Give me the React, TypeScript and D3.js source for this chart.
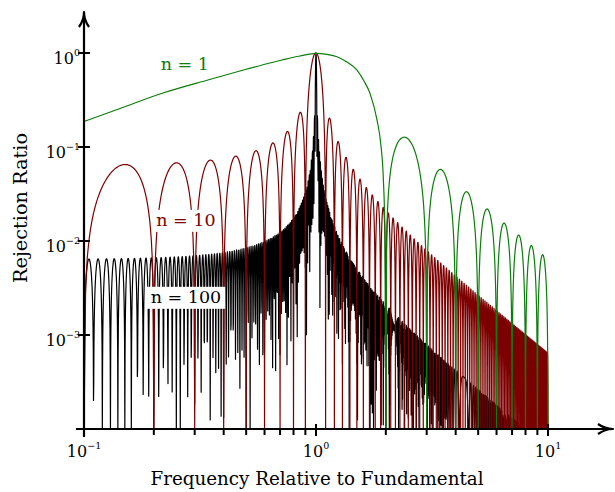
import React, { useEffect, useRef } from 'react';
import * as d3 from 'd3';

// averaging orders shown in the chart
const orders = [1, 10, 100];
const orderLabels = ['n = 1', 'n = 10', 'n = 100'];
const orderColors = ['#0b7d0b', '#7d0000', '#000000'];
// label anchor, in data units (frequency, ratio)
const labelFreq = [0.272, 0.275, 0.275];
const labelRatio = [0.66, 0.0145, 0.0022];

// n = 1 main lobe
const mainLobeFreq = [0.1, 0.143, 0.219, 0.342, 0.47, 0.633, 0.714, 0.853, 1.0, 1.115, 1.232, 1.36, 1.502, 1.61, 1.709, 1.832, 1.9, 1.952, 1.982, 2.0];
const mainLobeRatio = [0.187, 0.257, 0.375, 0.516, 0.643, 0.783, 0.842, 0.929, 0.99, 0.965, 0.913, 0.802, 0.659, 0.504, 0.372, 0.194, 0.11, 0.0446, 0.0122, 1e-4];

const freqRange = [0.1, 10];
const ratioRange = [1e-4, 1];
const yTickExps = [0, -1, -2, -3];
const xTickExps = [-1, 0, 1];
const xMinorTicks = [0.2, 0.3, 0.4, 0.5, 0.6, 0.7, 0.8, 0.9, 2, 3, 4, 5, 6, 7, 8, 9];

const W = 615;
const H = 492;
const FONT = '"DejaVu Serif", "Liberation Serif", serif';

// rejection ratio of an n-cycle average at frequency f (relative to fundamental)
const rejection = (n: number, f: number) => {
  const d = 1 - f * f;
  if (Math.abs(d) < 1e-12) return 1;
  return Math.abs((2 * Math.sin(n * Math.PI * f)) / (n * Math.PI * d));
};

// sample positions: every lobe for the coarse orders, a log grid for the dense one
const samplesFor = (n: number, from: number) => {
  if (n >= 100) {
    return d3.range(2001).map(i => Math.pow(10, -1 + (2 * i) / 2000));
  }
  const per = 60;
  const pts: number[] = [];
  for (let k = Math.floor(from * n); k < Math.round(freqRange[1] * n); k++) {
    for (let j = 0; j < per; j++) pts.push((k + j / per) / n);
  }
  pts.push(freqRange[1]);
  return pts.filter(f => f >= from - 1e-9 && f <= freqRange[1] + 1e-9);
};

function App() {
  const ref = useRef<SVGSVGElement>(null);

  useEffect(() => {
    const svg = d3.select(ref.current);
    svg.selectAll('*').remove();

    const x = d3.scaleLog().domain(freqRange).range([84, 548]);
    const y = d3.scaleLog().domain(ratioRange).range([429, 53]);

    const plot = svg.append('g');

    // dense first so the coarse curves sit on top
    const drawOrder = [2, 1, 0];
    drawOrder.forEach(i => {
      const n = orders[i];
      const from = n === 1 ? mainLobeFreq[mainLobeFreq.length - 1] : freqRange[0];
      const pts = samplesFor(n, from);
      const l = d3.line<number>()
        .x(f => x(f))
        .y(f => y(Math.max(ratioRange[0], rejection(n, f))));
      plot.append('path')
        .attr('d', l(pts))
        .attr('fill', 'none')
        .attr('stroke', orderColors[i])
        .attr('stroke-width', 1.2)
        .attr('stroke-linejoin', 'round');
      if (n === 1) {
        const main = d3.line<number>()
          .x((_, j) => x(mainLobeFreq[j]))
          .y(v => y(v))
          .curve(d3.curveMonotoneX);
        plot.append('path')
          .attr('d', main(mainLobeRatio))
          .attr('fill', 'none')
          .attr('stroke', orderColors[i])
          .attr('stroke-width', 1.2);
      }
    });

    // curve labels
    orders.forEach((n, i) => {
      const g = svg.append('g');
      const t = g.append('text')
        .attr('x', x(labelFreq[i]))
        .attr('y', y(labelRatio[i]))
        .attr('text-anchor', 'middle')
        .attr('font-family', FONT)
        .attr('font-size', 17.5)
        .attr('fill', orderColors[i])
        .text(orderLabels[i]);
      if (n > 1) {
        const bb = (t.node() as SVGTextElement).getBBox();
        g.insert('rect', 'text')
          .attr('x', bb.x - 4)
          .attr('y', bb.y)
          .attr('width', bb.width + 8)
          .attr('height', bb.height + 2)
          .attr('fill', 'white');
      }
    });

    // axes
    const axis = svg.append('g').attr('stroke', 'black').attr('fill', 'none');
    const ax0 = x(freqRange[0]);
    const ay0 = y(ratioRange[0]);
    axis.append('line')
      .attr('x1', 76).attr('x2', 610)
      .attr('y1', ay0).attr('y2', ay0)
      .attr('stroke-width', 2.2);
    axis.append('line')
      .attr('x1', ax0).attr('x2', ax0)
      .attr('y1', 437).attr('y2', 15)
      .attr('stroke-width', 2.2);
    // arrow heads
    axis.append('path')
      .attr('d', `M${ax0 - 5},27 Q${ax0},20 ${ax0},12 Q${ax0},20 ${ax0 + 5},27`)
      .attr('stroke-width', 2.2).attr('stroke-linejoin', 'round');
    axis.append('path')
      .attr('d', `M598,${ay0 - 5} Q605,${ay0} 613,${ay0} Q605,${ay0} 598,${ay0 + 5}`)
      .attr('stroke-width', 2.2).attr('stroke-linejoin', 'round');

    // y ticks
    yTickExps.forEach(e => {
      const yy = y(Math.pow(10, e));
      axis.append('line').attr('x1', ax0 - 6).attr('x2', ax0 + 6)
        .attr('y1', yy).attr('y2', yy).attr('stroke-width', 2);
      const t = svg.append('text')
        .attr('x', 80).attr('y', yy + 11)
        .attr('text-anchor', 'end')
        .attr('font-family', FONT)
        .attr('font-size', 16);
      t.append('tspan').text('10');
      t.append('tspan').attr('dy', -8).attr('font-size', 9.5).text(e === 0 ? '0' : '\u2212' + Math.abs(e));
    });

    // x ticks
    xTickExps.forEach(e => {
      const xx = x(Math.pow(10, e));
      axis.append('line').attr('x1', xx).attr('x2', xx)
        .attr('y1', ay0 - 5).attr('y2', ay0 + 7).attr('stroke-width', 2);
      const t = svg.append('text')
        .attr('x', xx).attr('y', 457)
        .attr('text-anchor', 'middle')
        .attr('font-family', FONT)
        .attr('font-size', 16);
      t.append('tspan').text('10');
      t.append('tspan').attr('dy', -8).attr('font-size', 9.5).text(e < 0 ? '\u2212' + Math.abs(e) : String(e));
    });
    xMinorTicks.forEach(v => {
      const xx = x(v);
      axis.append('line').attr('x1', xx).attr('x2', xx)
        .attr('y1', ay0).attr('y2', ay0 + 6).attr('stroke-width', 2);
    });

    // axis titles
    svg.append('text')
      .attr('x', 317).attr('y', 485)
      .attr('text-anchor', 'middle')
      .attr('font-family', FONT)
      .attr('font-size', 19)
      .attr('textLength', 333)
      .attr('lengthAdjust', 'spacingAndGlyphs')
      .text('Frequency Relative to Fundamental');
    svg.append('text')
      .attr('transform', 'translate(27, 208) rotate(-90)')
      .attr('text-anchor', 'middle')
      .attr('font-family', FONT)
      .attr('font-size', 19)
      .attr('textLength', 150)
      .attr('lengthAdjust', 'spacingAndGlyphs')
      .text('Rejection Ratio');
  }, []);

  return (
    <svg
      ref={ref}
      width={W}
      height={H}
      style={{ position: 'absolute', left: 0, top: 0, background: 'white' }}
    />
  );
}

export default App;
